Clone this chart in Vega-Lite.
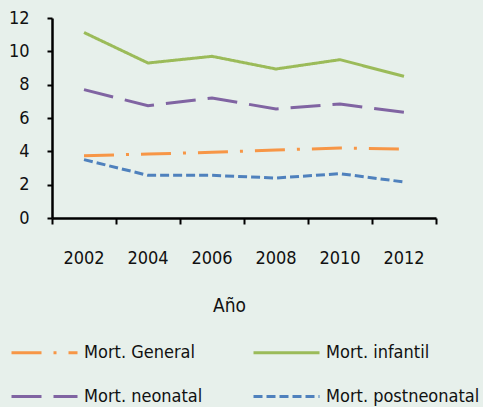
{
  "$schema": "https://vega.github.io/schema/vega-lite/v6.json",
  "width": 384,
  "height": 200,
  "autosize": {"type": "none"},
  "padding": {"left": 52, "top": 18, "right": 47, "bottom": 189},
  "background": "#e7f0eb",
  "config": {
    "view": {"stroke": null},
    "font": "DejaVu Sans Condensed, sans-serif",
    "axis": {"grid": false, "domainColor": "#000", "tickColor": "#000", "labelColor": "#111", "titleColor": "#111", "labelFontSize": 18, "titleFontSize": 19, "titleFontWeight": "normal", "domainWidth": 2.5, "tickWidth": 2},
    "legend": {"labelFontSize": 18, "labelColor": "#111"}
  },
  "data": {
    "values": [
      {"year": "2002", "serie": "Mort. General", "v": 3.74},
      {"year": "2004", "serie": "Mort. General", "v": 3.84},
      {"year": "2006", "serie": "Mort. General", "v": 3.94},
      {"year": "2008", "serie": "Mort. General", "v": 4.08},
      {"year": "2010", "serie": "Mort. General", "v": 4.2},
      {"year": "2012", "serie": "Mort. General", "v": 4.14},
      {"year": "2002", "serie": "Mort. infantil", "v": 11.13},
      {"year": "2004", "serie": "Mort. infantil", "v": 9.3},
      {"year": "2006", "serie": "Mort. infantil", "v": 9.7},
      {"year": "2008", "serie": "Mort. infantil", "v": 8.94},
      {"year": "2010", "serie": "Mort. infantil", "v": 9.5},
      {"year": "2012", "serie": "Mort. infantil", "v": 8.5},
      {"year": "2002", "serie": "Mort. neonatal", "v": 7.7},
      {"year": "2004", "serie": "Mort. neonatal", "v": 6.74},
      {"year": "2006", "serie": "Mort. neonatal", "v": 7.2},
      {"year": "2008", "serie": "Mort. neonatal", "v": 6.54},
      {"year": "2010", "serie": "Mort. neonatal", "v": 6.84},
      {"year": "2012", "serie": "Mort. neonatal", "v": 6.34},
      {"year": "2002", "serie": "Mort. postneonatal", "v": 3.5},
      {"year": "2004", "serie": "Mort. postneonatal", "v": 2.56},
      {"year": "2006", "serie": "Mort. postneonatal", "v": 2.56},
      {"year": "2008", "serie": "Mort. postneonatal", "v": 2.4},
      {"year": "2010", "serie": "Mort. postneonatal", "v": 2.66},
      {"year": "2012", "serie": "Mort. postneonatal", "v": 2.16}
    ]
  },
  "mark": {"type": "line", "strokeWidth": 3},
  "encoding": {
    "x": {
      "field": "year", "type": "ordinal",
      "scale": {"type": "band", "paddingInner": 0, "paddingOuter": 0},
      "axis": {"title": "Año", "labelAngle": 0, "bandPosition": 1, "tickExtra": true, "tickSize": 6, "labelPadding": 25, "titleX": 177, "titleY": 93, "titleBaseline": "alphabetic", "titleAlign": "center", "titleAnchor": null}
    },
    "y": {
      "field": "v", "type": "quantitative",
      "scale": {"domain": [0, 12], "nice": false, "zero": true},
      "axis": {"title": null, "values": [0, 2, 4, 6, 8, 10, 12], "tickSize": 5, "labelPadding": 18}
    },
    "color": {
      "field": "serie", "type": "nominal",
      "scale": {"domain": ["Mort. General", "Mort. infantil", "Mort. neonatal", "Mort. postneonatal"], "range": ["#f79646", "#9bbb59", "#8064a2", "#4f81bd"]},
      "legend": {"title": null, "orient": "none", "direction": "horizontal", "legendX": -42, "legendY": 300, "columns": 2, "symbolType": "stroke", "symbolSize": 4356, "symbolStrokeWidth": 3, "labelOffset": 5, "columnPadding": 9, "rowPadding": -27, "gridAlign": "all"}
    },
    "strokeDash": {
      "field": "serie", "type": "nominal",
      "scale": {"domain": ["Mort. General", "Mort. infantil", "Mort. neonatal", "Mort. postneonatal"], "range": [[30, 12, 3, 12], [1, 0], [30, 12], [9, 4]]},
      "legend": {"title": null, "orient": "none", "direction": "horizontal", "legendX": -42, "legendY": 300, "columns": 2, "symbolType": "stroke", "symbolSize": 4356, "symbolStrokeWidth": 3, "labelOffset": 5, "columnPadding": 9, "rowPadding": -27, "gridAlign": "all"}
    }
  }
}
